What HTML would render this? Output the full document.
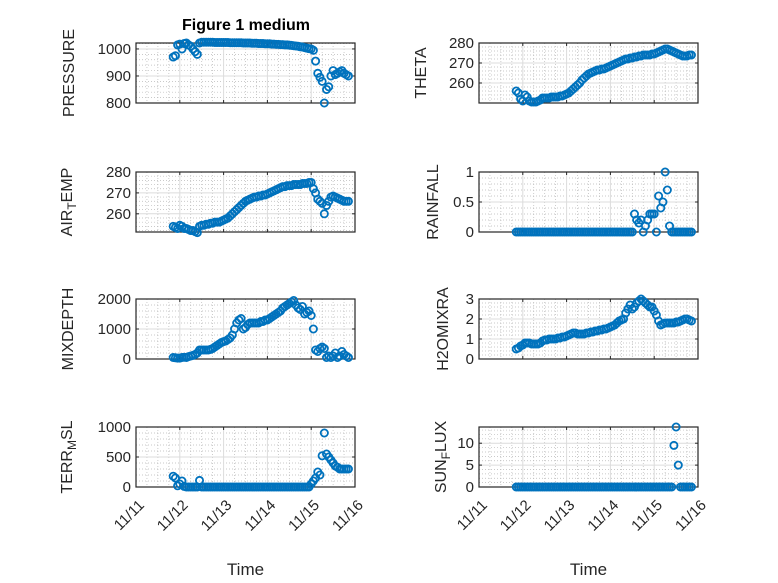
<!DOCTYPE html>
<html><head><meta charset="utf-8"><style>
body{margin:0;background:#fff}
svg{display:block;font-family:"Liberation Sans","DejaVu Sans",sans-serif}
</style></head><body>
<svg id="fig" width="778" height="583" viewBox="0 0 778 583">
<rect width="778" height="583" fill="#fff"/>
<text x="246" y="30" text-anchor="middle" font-weight="bold" font-size="16" fill="#000">Figure 1 medium</text>
</svg>
<script>
const times = [];
for (let i = 0; i < 81; i++) times.push(0.85 + 0.05 * i);
const dayTickLabels = ["11/11","11/12","11/13","11/14","11/15","11/16"];
const pressure = [970,975,1015,1018,1000,1020,1022,1015,1010,1000,990,980,1022,1025,
 1025,1025,1025,1025,1025,1024,1024,1024,1024,1024,1024,1024,1023,1023,1023,1023,1023,1023,1022,1022,
 1022,1022,1021,1021,1021,1020,1020,1020,1019,1019,1019,1018,1018,1017,1017,1016,1016,1015,1015,1014,
 1013,1012,1011,1010,1008,1007,1005,1003,1001,1000,
 995,955,910,895,880,800,850,860,900,920,905,910,915,920,910,905,900];
const airTemp = [254,253.5,253,254.5,254,253,253,252.5,252,252,251.5,251,254,254.5,
 254.5,255,255,255.5,255.5,256,256,256,256.5,257,257.5,258,259,260,261,262,263,264,265,266,
 266.5,267,267.5,268,268,268.5,268.5,269,269,269.5,270,270.5,271,271.5,272,272.5,273,273,273.5,273.5,
 273.5,274,274,274,274,274.5,274.5,274.5,275,275,
 272,270,267,266,265,260,264,266,268,268.5,268,267.5,267,266.5,266,266,266];
const mixDepth = [50,40,30,30,50,60,50,80,100,120,150,200,300,300,
 300,300,300,320,350,400,450,500,550,580,600,650,700,800,1000,1200,1300,1350,1000,1050,
 1150,1200,1200,1200,1200,1200,1250,1250,1300,1300,1350,1400,1450,1500,1550,1600,1700,1750,1800,1850,
 1900,1950,1800,1700,1650,1750,1500,1550,1600,1450,
 1000,300,250,350,400,350,50,100,50,100,200,50,100,250,150,100,50];
const terrMsl = [180,150,20,50,100,10,0,0,0,0,0,0,110,0,
 0,0,0,0,0,0,0,0,0,0,0,0,0,0,0,0,0,0,0,0,
 0,0,0,0,0,0,0,0,0,0,0,0,0,0,0,0,0,0,0,0,
 0,0,0,0,0,0,0,0,0,50,
 100,150,250,200,520,900,550,500,450,400,350,330,300,300,300,300,300];
const theta = [256,255,252,251,254,253,251,250.5,250.5,250.5,251,251.5,252.5,252.5,
 252.5,252.5,253,253,253,253,253.5,253.5,254,254.5,255,256,257,258,259,260,261.5,262.5,263.5,264.5,
 265,265.5,266,266.5,266.5,267,267,267.5,268,268.5,269,269.5,270,270.5,271,271.5,272,272,272.5,272.5,
 273,273,273.5,273.5,274,274,274,274,274.5,274.5,
 275,275.5,276,276.5,277,277,276.5,276,275.5,275,274.5,274,273.5,273.5,273.5,274,274];
const rainfall = [0,0,0,0,0,0,0,0,0,0,0,0,0,0,
 0,0,0,0,0,0,0,0,0,0,0,0,0,0,0,0,0,0,0,0,
 0,0,0,0,0,0,0,0,0,0,0,0,0,0,0,0,0,0,0,0,
 0.3,0.2,0.15,0.2,0,0.1,0.2,0.3,0.3,0.3,
 0,0.6,0.4,0.5,1.0,0.7,0.1,0,0,0,0,0,0,0,0,0,0];
const h2oMix = [0.5,0.55,0.65,0.7,0.8,0.8,0.8,0.75,0.75,0.75,0.75,0.8,0.9,0.95,
 0.95,1.0,1.0,1.0,1.0,1.05,1.05,1.1,1.1,1.15,1.2,1.25,1.3,1.3,1.25,1.25,1.25,1.25,1.3,1.3,
 1.35,1.35,1.4,1.4,1.45,1.45,1.5,1.5,1.55,1.6,1.65,1.7,1.8,1.9,1.95,2.0,2.3,2.5,2.7,2.5,
 2.6,2.8,2.9,3.0,2.9,2.8,2.7,2.6,2.6,2.4,
 2.2,1.9,1.7,1.75,1.8,1.8,1.8,1.8,1.8,1.85,1.85,1.9,1.95,2.0,2.0,1.95,1.9];
const sunFlux = [0,0,0,0,0,0,0,0,0,0,0,0,0,0,
 0,0,0,0,0,0,0,0,0,0,0,0,0,0,0,0,0,0,0,0,
 0,0,0,0,0,0,0,0,0,0,0,0,0,0,0,0,0,0,0,0,
 0,0,0,0,0,0,0,0,0,0,
 0,0,0,0,0,0,0,0,9.5,13.7,5,0,0,0,0,0,0];

const panels = [
 {name:"pressure", label:["PRESSURE"], vals:pressure, ymin:800, ymax:1022, ticks:[800,900,1000], minor:20, col:0,row:0, lx:68},
 {name:"air-temp", label:["AIR","T","EMP"], vals:airTemp, ymin:251.3, ymax:280, ticks:[260,270,280], minor:2, col:0,row:1, lx:66},
 {name:"mixdepth", label:["MIXDEPTH"], vals:mixDepth, ymin:0, ymax:2000, ticks:[0,1000,2000], minor:200, col:0,row:2, lx:67},
 {name:"terr-msl", label:["TERR","M","SL"], vals:terrMsl, ymin:0, ymax:1000, ticks:[0,500,1000], minor:100, col:0,row:3, lx:66},
 {name:"theta", label:["THETA"], vals:theta, ymin:250, ymax:280, ticks:[260,270,280], minor:2, col:1,row:0, lx:420},
 {name:"rainfall", label:["RAINFALL"], vals:rainfall, ymin:0, ymax:1, ticks:[0,0.5,1], minor:0.1, col:1,row:1, lx:432},
 {name:"h2o-mix", label:["H2OMIXRA"], vals:h2oMix, ymin:0, ymax:3, ticks:[0,1,2,3], minor:0.2, col:1,row:2, lx:442},
 {name:"sun-flux", label:["SUN","F","LUX"], vals:sunFlux, ymin:0, ymax:13.7, ticks:[0,5,10], minor:1, col:1,row:3, lx:440}
];
const NS = "http://www.w3.org/2000/svg";
const svg = document.getElementById('fig');
function mk(tag, attrs, parent){const e=document.createElementNS(NS,tag);for(const k in attrs)e.setAttribute(k,attrs[k]);(parent||svg).appendChild(e);return e;}
const colLeft=[136,479], W=219, rowTop=[43,172,299,427], H=60;
panels.forEach(p=>{
  const L=colLeft[p.col], T=rowTop[p.row], R=L+W, B=T+H;
  const g=mk('g',{});
  
  
  const xs=t=>L+t/5*W, ys=v=>B-(v-p.ymin)/(p.ymax-p.ymin)*H;
  for(let h=0;h<=120;h+=6){ if(h%24===0)continue; const x=xs(h/24);
    mk('line',{x1:x,x2:x,y1:T,y2:B,stroke:'#b8b8b8','stroke-width':0.7,'stroke-dasharray':'1 2'},g);}
  const m0=Math.ceil(p.ymin/p.minor);
  for(let k=m0;k*p.minor<=p.ymax+1e-9;k++){const v=k*p.minor; if(p.ticks.some(t=>Math.abs(t-v)<1e-9))continue; const y=ys(v);
    mk('line',{x1:L,x2:R,y1:y,y2:y,stroke:'#b8b8b8','stroke-width':0.7,'stroke-dasharray':'1 2'},g);}
  for(let d=1;d<5;d++){const x=xs(d);mk('line',{x1:x,x2:x,y1:T,y2:B,stroke:'#dcdcdc','stroke-width':1},g);}
  p.ticks.forEach(v=>{const y=ys(v);
    mk('line',{x1:L,x2:R,y1:y,y2:y,stroke:'#dcdcdc','stroke-width':1},g);
    mk('line',{x1:L,x2:L+3,y1:y,y2:y,stroke:'#262626','stroke-width':1},g);
    mk('line',{x1:R-3,x2:R,y1:y,y2:y,stroke:'#262626','stroke-width':1},g);
    const t=mk('text',{x:L-5,y:y+5,'text-anchor':'end','font-size':15,fill:'#262626'},g);t.textContent=String(v);
    
    
  });
  for(let d=0;d<=5;d++){const x=xs(d);
    mk('line',{x1:x,x2:x,y1:B,y2:B-3,stroke:'#262626','stroke-width':1},g);
    mk('line',{x1:x,x2:x,y1:T,y2:T+3,stroke:'#262626','stroke-width':1},g);
    if(p.row===3){const ax=x+9, ay=B+19;
      const t=mk('text',{x:ax,y:ay,'text-anchor':'end','font-size':15,fill:'#262626',transform:`rotate(-45 ${ax} ${ay})`},g);t.textContent=dayTickLabels[d];
      
      }
  }
  mk('rect',{x:L,y:T,width:W,height:H,fill:'none',stroke:'#262626','stroke-width':1.2},g);
  times.forEach((t,i)=>{const c=mk('circle',{cx:xs(t),cy:ys(p.vals[i]),r:3.6,fill:'none',stroke:'#0072BD','stroke-width':1.8},g);
    
    });
  const cy=(T+B)/2;
  const lt=mk('text',{x:p.lx,y:cy,'text-anchor':'middle','font-size':16,fill:'#262626',transform:`rotate(-90 ${p.lx} ${cy})`,dy:6},g);
  
  
  if(p.label.length===1){lt.textContent=p.label[0];}
  else{const a=mk('tspan',{},lt);a.textContent=p.label[0];
    const b=mk('tspan',{'font-size':12,dy:4},lt);b.textContent=p.label[1];
    const c=mk('tspan',{dy:-4},lt);c.textContent=p.label[2];}
  if(p.row===3){const xl=mk('text',{x:(L+R)/2,y:575,'text-anchor':'middle','font-size':17,fill:'#262626'},g);xl.textContent='Time';
    
    }
});
</script>
</body></html>
